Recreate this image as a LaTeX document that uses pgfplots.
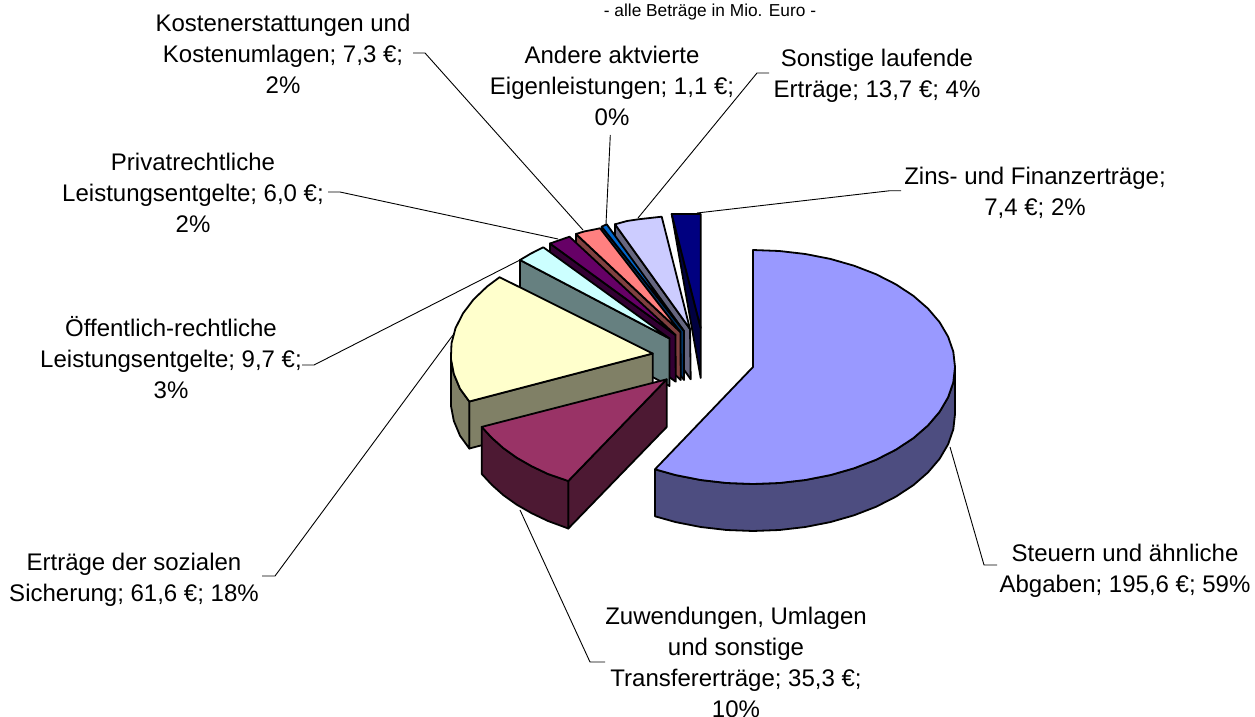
\documentclass[border=0pt]{standalone}
\usepackage{fontspec}
\setmainfont{Liberation Sans}
\usepackage{pgfplots}
\pgfplotsset{compat=1.18}
\definecolor{sA}{HTML}{9999FF}\definecolor{wA}{HTML}{4D4D80}
\definecolor{sB}{HTML}{993366}\definecolor{wB}{HTML}{4D1933}
\definecolor{sC}{HTML}{FFFFCC}\definecolor{wC}{HTML}{808066}
\definecolor{sD}{HTML}{CCFFFF}\definecolor{wD}{HTML}{668080}
\definecolor{sE}{HTML}{660066}\definecolor{wE}{HTML}{330033}
\definecolor{sF}{HTML}{FF8080}\definecolor{wF}{HTML}{804040}
\definecolor{sG}{HTML}{0066CC}\definecolor{wG}{HTML}{003366}
\definecolor{sH}{HTML}{CCCCFF}\definecolor{wH}{HTML}{666680}
\definecolor{sI}{HTML}{000080}\definecolor{wI}{HTML}{000040}
\tikzset{
  slice/.style={draw=black,line width=1.8pt,line join=round,fill=#1},
  lead/.style={draw=black,line width=0.9pt,line join=round},
  lab/.style={align=center,inner sep=0pt,font=\fontsize{24}{31}\selectfont},
}
\begin{document}
\begin{tikzpicture}
\begin{axis}[
  scale only axis, width=1255pt, height=717pt,
  xmin=0, xmax=1255, ymin=0, ymax=717, y dir=reverse,
  axis lines=none, clip=false, no markers,
]
% Zins- und Finanzertraege
\addplot[slice=wI] coordinates {(671.7,214)(700.7,328)(700.7,378)} -- cycle;
\addplot[slice=sI] coordinates {(700.7,328)(671.7,214)(700.7,214)} -- cycle;
% Sonstige laufende Ertraege
\addplot[slice=wH] coordinates {(615,224.3)(690,329)(690.7,379.3)(615,271)} -- cycle;
\addplot[slice=sH] coordinates {(690,329)(615,224.3)(627,221)(638.3,219.3)(661.7,216.7)} -- cycle;
% Andere aktivierte Eigenleistungen
\addplot[slice=wG] coordinates {(601.7,226.7)(684,331)(684,380)(601.7,274)} -- cycle;
\addplot[slice=sG] coordinates {(684,331)(601.7,226.7)(606.7,224.3)} -- cycle;
% Kostenerstattungen
\addplot[slice=wF] coordinates {(576,234)(680.5,332)(680.7,380)(576,281)} -- cycle;
\addplot[slice=sF] coordinates {(680.5,332)(576,234)(584,231.5)(591.7,230)(600,228.3)} -- cycle;
% Privatrechtliche Leistungsentgelte
\addplot[slice=wE] coordinates {(550,243.5)(675.5,335)(675.7,381.7)(550,291)} -- cycle;
\addplot[slice=sE] coordinates {(675.5,335)(550,243.5)(560,240)(569.5,236.7)} -- cycle;
% Oeffentlich-rechtliche Leistungsentgelte
\addplot[slice=wD] coordinates {(520,260)(669.5,338.5)(669.5,386)(520,307)} -- cycle;
\addplot[slice=sD] coordinates {(669.5,338.5)(520,260)(531,253.5)(543.3,247.3)} -- cycle;
% Ertraege der sozialen Sicherung
\addplot[slice=wC] coordinates {(469.3,401.5)(652.7,353.5)(652.7,400.5)(469.3,448.5)} -- cycle;
\addplot[slice=wC] coordinates {(450.9,358.6)(453.8,373.8)(460,388.7)(469.3,401.5)(469.3,448.5)(460,435.7)(453.8,420.8)(450.9,405.6)} -- cycle;
\addplot[slice=sC] coordinates {(652.7,353.5)(469.3,401.5)(460,388.7)(453.8,373.8)(450.9,358.6)(451.5,343.3)(455.5,328.2)(462.9,313.5)(473.5,299.5)(487.2,286.4)(499.6,277.2)} -- cycle;
% Zuwendungen
\addplot[slice=wB] coordinates {(568.3,481)(666.7,379.3)(666.7,427)(568.3,528.5)} -- cycle;
\addplot[slice=wB] coordinates {(481.7,426.9)(491.8,437.8)(503.3,448.1)(516.6,457.6)(531.6,466.2)(548,474)(568.3,481)(568.3,528.5)(548,521)(531.6,513.2)(516.6,504.6)(503.3,495.1)(491.8,484.8)(481.7,473.9)} -- cycle;
\addplot[slice=sB] coordinates {(666.7,379.3)(481.7,426.9)(491.8,437.8)(503.3,448.1)(516.6,457.6)(531.6,466.2)(548,474)(568.3,481)} -- cycle;
% Steuern
\addplot[slice=wA] coordinates {(955,367)(953.3,382.3)(948.1,397.3)(939.6,411.8)(927.9,425.5)(913.3,438.2)(895.8,449.7)(876,459.8)(854,468.3)(830.3,475.1)(805.3,480)(779.4,483)(753,484)(726.6,483)(700.7,480)(675.7,475.1)(655,469.3)(655,516.3)(675.7,522.1)(700.7,527)(726.6,530)(753,531)(779.4,530)(805.3,527)(830.3,522.1)(854,515.3)(876,506.8)(895.8,496.7)(913.3,485.2)(927.9,472.5)(939.6,458.8)(948.1,444.3)(953.3,429.3)(955,414)} -- cycle;
\addplot[slice=sA] coordinates {(753,367)(753,250)(779.4,251)(805.3,254)(830.3,258.9)(854,265.7)(876,274.2)(895.8,284.3)(913.3,295.8)(927.9,308.5)(939.6,322.2)(948.1,336.7)(953.3,351.7)(955,367)(953.3,382.3)(948.1,397.3)(939.6,411.8)(927.9,425.5)(913.3,438.2)(895.8,449.7)(876,459.8)(854,468.3)(830.3,475.1)(805.3,480)(779.4,483)(753,484)(726.6,483)(700.7,480)(675.7,475.1)(655,469.3)} -- cycle;
% leader lines
\addplot[lead] coordinates {(413,53)(425,53)(583,230)};
\addplot[lead] coordinates {(328,192)(340,192)(558,239)};
\addplot[lead] coordinates {(610.3,135)(606,224)};
\addplot[lead] coordinates {(769,73)(757,73)(638,218)};
\addplot[lead] coordinates {(901,190.7)(890,190.7)(697,213)};
\addplot[lead] coordinates {(302,365)(314,365)(520,260)};
\addplot[lead] coordinates {(262,576)(275,576)(453,335)};
\addplot[lead] coordinates {(605,662)(590,662)(520,510)};
\addplot[lead] coordinates {(997,565)(984,565)(950,447)};
% labels
\node[lab] at (axis cs:283,54) {Kostenerstattungen und\\Kostenumlagen; 7,3 €;\\2\%};
\node[lab] at (axis cs:193,193) {Privatrechtliche\\Leistungsentgelte; 6,0 €;\\2\%};
\node[lab] at (axis cs:612,86) {Andere aktvierte\\Eigenleistungen; 1,1 €;\\0\%};
\node[lab] at (axis cs:877,75.5) {Sonstige laufende\\Erträge; 13,7 €; 4\%};
\node[lab] at (axis cs:1035,192.5) {Zins- und Finanzerträge;\\7,4 €; 2\%};
\node[lab] at (axis cs:171,358) {Öffentlich-rechtliche\\Leistungsentgelte; 9,7 €;\\3\%};
\node[lab] at (axis cs:134,579.5) {Erträge der sozialen\\Sicherung; 61,6 €; 18\%};
\node[lab] at (axis cs:736,662.5) {Zuwendungen, Umlagen\\und sonstige\\Transfererträge; 35,3 €;\\10\%};
\node[lab] at (axis cs:1125,570.5) {Steuern und ähnliche\\Abgaben; 195,6 €; 59\%};
\node[inner sep=0pt,font=\fontsize{17.3}{19}\selectfont] at (axis cs:710,12) {- alle Beträge in Mio. Euro -};
\end{axis}
\pgfresetboundingbox
\useasboundingbox (0,0) rectangle (1255pt,717pt);
\end{tikzpicture}
\end{document}
